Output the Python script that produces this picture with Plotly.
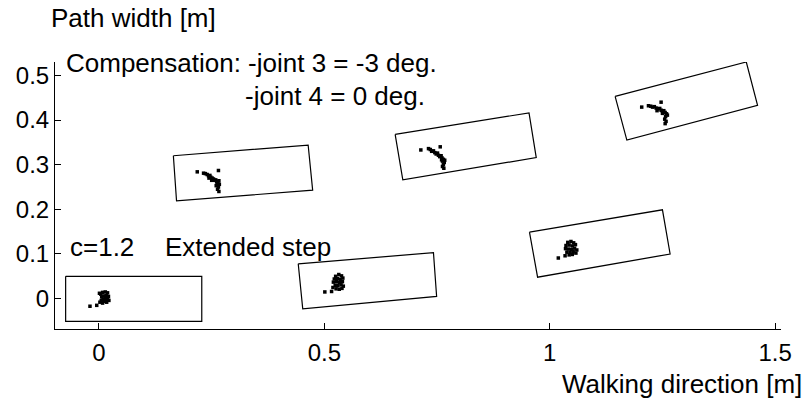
import plotly.graph_objects as go

# Rotated step boxes (corner coordinates, walking direction x, path width y)
box_x = [
    [-0.074, 0.228, 0.228, -0.074],
    [0.165, 0.464, 0.474, 0.172],
    [0.442, 0.742, 0.749, 0.452],
    [0.657, 0.954, 0.970, 0.674],
    [0.955, 1.250, 1.267, 0.973],
    [1.145, 1.436, 1.461, 1.171],
]
box_y = [
    [0.050, 0.050, -0.051, -0.051],
    [0.320, 0.344, 0.243, 0.219],
    [0.078, 0.103, 0.005, -0.023],
    [0.368, 0.416, 0.316, 0.266],
    [0.149, 0.199, 0.100, 0.048],
    [0.453, 0.530, 0.433, 0.355],
]

# Measured foot-contact point clusters
pts_x = [
    [0.004, 0.008, 0.014, 0.019, 0.006, 0.011, 0.016, 0.021, 0.009, 0.014, 0.019, 0.005, 0.012, 0.017, 0.022, 0.002, 0.008, -0.005, -0.020, 0.001],
    [0.218, 0.265, 0.232, 0.236, 0.240, 0.243, 0.246, 0.248, 0.251, 0.254, 0.256, 0.259, 0.261, 0.264, 0.266, 0.262, 0.267, 0.244, 0.250, 0.265, 0.263, 0.266, 0.260],
    [0.525, 0.532, 0.538, 0.522, 0.529, 0.535, 0.541, 0.520, 0.527, 0.533, 0.540, 0.524, 0.530, 0.537, 0.542, 0.526, 0.533, 0.539, 0.501, 0.516, 0.519],
    [0.714, 0.757, 0.731, 0.735, 0.738, 0.742, 0.745, 0.748, 0.751, 0.753, 0.756, 0.759, 0.761, 0.764, 0.767, 0.762, 0.766, 0.760, 0.764, 0.762, 0.765],
    [1.040, 1.047, 1.053, 1.036, 1.043, 1.050, 1.057, 1.035, 1.041, 1.048, 1.055, 1.060, 1.038, 1.045, 1.052, 1.058, 1.043, 1.050, 1.019, 1.034],
    [1.204, 1.247, 1.219, 1.224, 1.228, 1.232, 1.236, 1.240, 1.244, 1.247, 1.250, 1.253, 1.256, 1.259, 1.261, 1.238, 1.250, 1.257, 1.255, 1.258, 1.256],
]
pts_y = [
    [0.010, 0.014, 0.015, 0.013, 0.004, 0.006, 0.007, 0.005, -0.001, 0.000, -0.002, -0.004, -0.006, -0.008, -0.004, -0.008, -0.010, -0.015, -0.017, 0.012],
    [0.284, 0.287, 0.281, 0.280, 0.278, 0.275, 0.276, 0.272, 0.270, 0.268, 0.265, 0.266, 0.262, 0.260, 0.264, 0.257, 0.256, 0.270, 0.265, 0.250, 0.245, 0.240, 0.253],
    [0.050, 0.054, 0.051, 0.044, 0.045, 0.043, 0.046, 0.037, 0.038, 0.036, 0.038, 0.030, 0.029, 0.031, 0.028, 0.022, 0.021, 0.023, 0.015, 0.016, 0.025],
    [0.333, 0.340, 0.336, 0.334, 0.330, 0.331, 0.327, 0.324, 0.326, 0.321, 0.318, 0.320, 0.315, 0.312, 0.310, 0.308, 0.305, 0.311, 0.300, 0.296, 0.292],
    [0.126, 0.128, 0.125, 0.119, 0.120, 0.118, 0.121, 0.112, 0.111, 0.110, 0.113, 0.109, 0.104, 0.103, 0.105, 0.102, 0.098, 0.099, 0.091, 0.096],
    [0.429, 0.440, 0.432, 0.431, 0.429, 0.430, 0.427, 0.425, 0.426, 0.422, 0.420, 0.421, 0.417, 0.414, 0.411, 0.421, 0.415, 0.408, 0.402, 0.397, 0.392],
]

x_ticks = [0, 0.5, 1, 1.5]
x_tick_labels = ["0", "0.5", "1", "1.5"]
y_ticks = [0, 0.1, 0.2, 0.3, 0.4, 0.5]
y_tick_labels = ["0", "0.1", "0.2", "0.3", "0.4", "0.5"]

FONT = "Liberation Sans, Arial, sans-serif"
TICK_SIZE = 24
TEXT_SIZE = 26

fig = go.Figure()
for bx, by in zip(box_x, box_y):
    fig.add_trace(go.Scatter(x=bx + [bx[0]], y=by + [by[0]], mode="lines",
                             line=dict(color="black", width=1.2), hoverinfo="skip"))
for px, py in zip(pts_x, pts_y):
    fig.add_trace(go.Scatter(x=px, y=py, mode="markers",
                             marker=dict(symbol="square", size=3.5, color="black", line=dict(width=0))))

W, H = 808, 405
L, R, T, B = 55, 27, 62, 76

fig.update_layout(
    width=W, height=H, showlegend=False,
    margin=dict(l=L, r=R, t=T, b=B),
    paper_bgcolor="white", plot_bgcolor="white",
    font=dict(family=FONT, size=TICK_SIZE, color="black"),
    xaxis=dict(range=[-0.0976, 1.513], tickvals=x_ticks, ticktext=x_tick_labels,
               showgrid=False, zeroline=False, showline=True, linecolor="black", linewidth=1,
               ticks="inside", ticklen=6, tickcolor="black", tickfont=dict(size=TICK_SIZE),
               ticklabelstandoff=2),
    yaxis=dict(range=[-0.068, 0.53], tickvals=y_ticks, ticktext=y_tick_labels,
               showgrid=False, zeroline=False, showline=True, linecolor="black", linewidth=1,
               ticks="inside", ticklen=6, tickcolor="black", tickfont=dict(size=TICK_SIZE)),
)

pw = W - L - R
ph = H - T - B

def px2paper(x, y):
    return (x - L) / pw, (H - B - y) / ph

annots = [
    ("Path width [m]", 49, 18, "left"),
    ("Compensation: -joint 3 = -3 deg.", 64, 63, "left"),
    ("-joint 4 = 0 deg.", 243, 96, "left"),
    ("c=1.2", 68, 247, "left"),
    ("Extended step", 163, 247, "left"),
    ("Walking direction [m]", 804, 384, "right"),
]
for text, x, y, anchor in annots:
    ax, ay = px2paper(x, y)
    fig.add_annotation(text=text, x=ax, y=ay, xref="paper", yref="paper",
                       xanchor=anchor, yanchor="middle", showarrow=False,
                       font=dict(family=FONT, size=TEXT_SIZE, color="black"))

fig.write_html("out.html", config={"displayModeBar": False},
               post_script="document.body.style.margin='0px';")
